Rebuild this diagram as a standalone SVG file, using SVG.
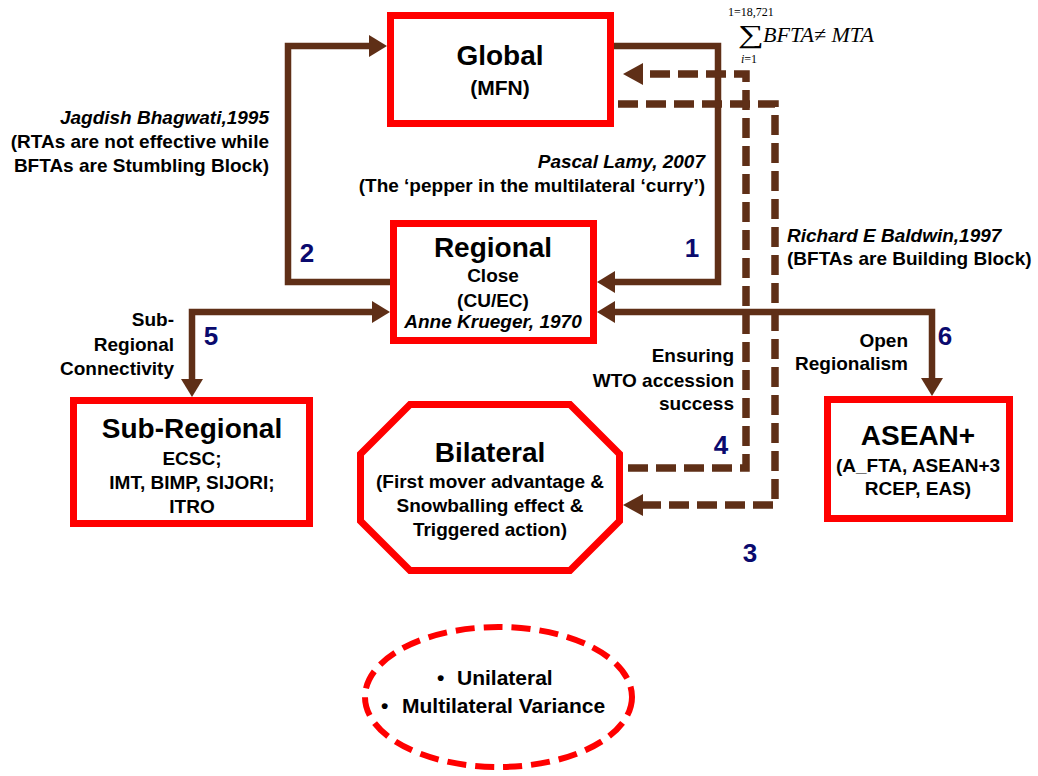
<svg xmlns="http://www.w3.org/2000/svg" width="1038" height="776" viewBox="0 0 1038 776">
<defs>
<style>
.box{fill:#fff;stroke:#ff0000;stroke-width:7}
.t{font-family:"Liberation Sans",Arial,sans-serif;font-weight:bold;fill:#000}
.h{font-size:28px;text-anchor:middle}
.b{font-size:19px}
.m{text-anchor:middle}
.e{text-anchor:end}
.i{font-style:italic}
.n{font-family:"Liberation Sans",Arial,sans-serif;font-weight:bold;font-size:26px;fill:#0a0a6e;text-anchor:middle}
.c{fill:none;stroke:#5f2f17;stroke-width:6.5}
.d{fill:none;stroke:#5f2f17;stroke-width:7.5;stroke-dasharray:20 8}
.f{font-family:"Liberation Serif","Times New Roman",serif;fill:#000}
</style>
<marker id="ah" markerUnits="userSpaceOnUse" markerWidth="18" markerHeight="22" refX="0" refY="11" orient="auto-start-reverse" viewBox="0 0 18 22">
<path d="M0,0 L18,11 L0,22 z" fill="#5f2f17"/>
</marker>
<marker id="ahd" markerUnits="userSpaceOnUse" markerWidth="20" markerHeight="22" refX="0" refY="11" orient="auto" viewBox="0 0 20 22">
<path d="M0,0 L20,11 L0,22 z" fill="#5f2f17"/>
</marker>
</defs>
<rect width="1038" height="776" fill="#fff"/>

<g id="connectors">
<path class="c" d="M390,282 H288 V46 H369" marker-end="url(#ah)"/>
<path class="c" d="M614,46 H718 V282 H615" marker-end="url(#ah)"/>
<path class="c" d="M615,312 H932 V378" marker-start="url(#ah)" marker-end="url(#ah)"/>
<path class="c" d="M192,379 V312 H372" marker-start="url(#ah)" marker-end="url(#ah)"/>
<path class="d" d="M618,104 H775 V505 H643" marker-end="url(#ahd)"/>
<path class="d" d="M628,468 H746 V74 H643" marker-end="url(#ahd)"/>
</g>

<g id="global">
<rect class="box" x="390.5" y="15.5" width="220" height="108"/>
<text class="t h" x="500" y="65">Global</text>
<text class="t m" x="500" y="95" font-size="21">(MFN)</text>
</g>

<g id="regional">
<rect class="box" x="393.5" y="223.5" width="200" height="117"/>
<text class="t h" x="493" y="257">Regional</text>
<text class="t b m" x="493" y="282">Close</text>
<text class="t b m" x="493" y="307">(CU/EC)</text>
<text class="t b m i" x="493" y="328">Anne Krueger, 1970</text>
</g>

<g id="subregional">
<rect class="box" x="73.5" y="400.5" width="236" height="123"/>
<text class="t h" x="192" y="438">Sub-Regional</text>
<text class="t b m" x="192" y="465">ECSC;</text>
<text class="t b m" x="192" y="489">IMT, BIMP, SIJORI;</text>
<text class="t b m" x="192" y="513">ITRO</text>
</g>

<g id="bilateral">
<polygon class="box" points="410,404.5 570,404.5 619.5,454 619.5,521 570,570.5 410,570.5 360.5,521 360.5,454"/>
<text class="t h" x="490" y="462">Bilateral</text>
<text class="t b m" x="490" y="488">(First mover advantage &amp;</text>
<text class="t b m" x="490" y="512">Snowballing effect &amp;</text>
<text class="t b m" x="490" y="536">Triggered action)</text>
</g>

<g id="asean">
<rect class="box" x="827.5" y="399.5" width="182" height="119"/>
<text class="t h" x="918" y="445">ASEAN+</text>
<text class="t b m" x="918" y="472">(A_FTA, ASEAN+3</text>
<text class="t b m" x="918" y="495">RCEP, EAS)</text>
</g>

<g id="variance">
<ellipse cx="498.5" cy="697" rx="133.5" ry="70" fill="#fff" stroke="#ff0000" stroke-width="6" stroke-dasharray="19 9"/>
<text class="t" x="437" y="685" font-size="21">•</text>
<text class="t" x="457" y="685" font-size="21">Unilateral</text>
<text class="t" x="381" y="713" font-size="21">•</text>
<text class="t" x="402" y="713" font-size="21">Multilateral Variance</text>
</g>

<g id="labels">
<text class="t b e i" x="269" y="124">Jagdish Bhagwati,1995</text>
<text class="t b e" x="269" y="148">(RTAs are not effective while</text>
<text class="t b e" x="269" y="172">BFTAs are Stumbling Block)</text>
<text class="t b e i" x="705" y="168">Pascal Lamy, 2007</text>
<text class="t b e" x="705" y="192">(The ‘pepper in the multilateral ‘curry’)</text>
<text class="t b i" x="787" y="242">Richard E Baldwin,1997</text>
<text class="t b" x="787" y="265">(BFTAs are Building Block)</text>
<text class="t b e" x="734" y="362">Ensuring</text>
<text class="t b e" x="734" y="387">WTO accession</text>
<text class="t b e" x="734" y="410">success</text>
<text class="t b e" x="908" y="347">Open</text>
<text class="t b e" x="908" y="370">Regionalism</text>
<text class="t b e" x="174" y="326">Sub-</text>
<text class="t b e" x="174" y="351">Regional</text>
<text class="t b e" x="174" y="375">Connectivity</text>
<text class="n" x="692" y="257">1</text>
<text class="n" x="307" y="262">2</text>
<text class="n" x="750" y="562">3</text>
<text class="n" x="721" y="454">4</text>
<text class="n" x="211" y="345">5</text>
<text class="n" x="945" y="345">6</text>
</g>

<g id="formula">
<text class="f" x="728" y="16" font-size="12">1=18,721</text>
<text class="f" x="0" y="0" font-size="26" transform="translate(738,43) scale(1.4,1)">∑</text>
<text class="f" x="741" y="63" font-size="12"><tspan font-style="italic">i</tspan>=1</text>
<text class="f" x="763" y="42" font-size="22" font-style="italic">BFTA≠ MTA</text>
</g>
</svg>
